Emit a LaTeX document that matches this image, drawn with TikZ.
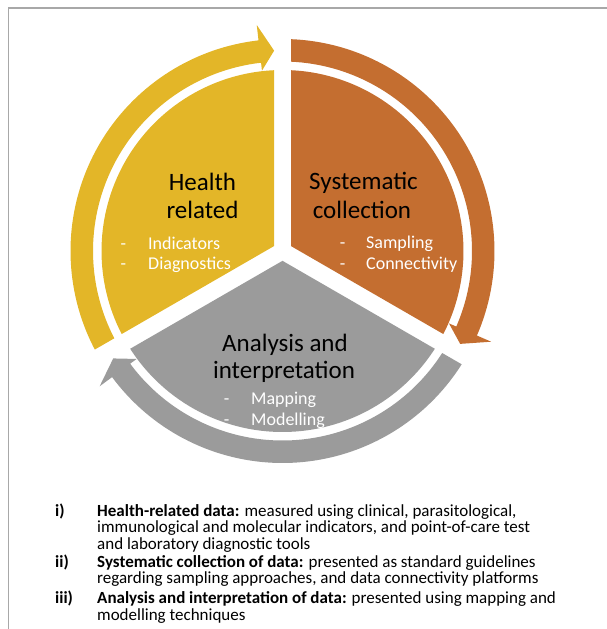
\documentclass[tikz,border=0pt]{standalone}
\usepackage{fontspec}
\setmainfont{Carlito}
\begin{document}
\begin{tikzpicture}[x=1pt,y=1pt,
  title/.style={anchor=base,font=\fontsize{25}{30}\selectfont,text=black,inner sep=0pt},
  dashmark/.style={anchor=base,font=\fontsize{18}{22}\selectfont,text=white,inner sep=0pt},
  subitem/.style={anchor=base west,font=\fontsize{18}{22}\selectfont,text=white,inner sep=0pt},
  notelabel/.style={anchor=base west,font=\fontsize{17}{18}\bfseries\selectfont,inner sep=0pt},
  noteline/.style={anchor=base west,font=\fontsize{17}{18}\selectfont,inner sep=0pt}]
\definecolor{hyellow}{RGB}{227,182,40}
\definecolor{sorange}{RGB}{196,110,48}
\definecolor{agray}{RGB}{155,155,155}
\definecolor{framegray}{RGB}{168,168,168}
\useasboundingbox (0,0) rectangle (607,-629);
% frame
\draw[framegray,line width=1.5] (8.5,-629) -- (8.5,-8) -- (607,-8);

% wheel: three segments with gaps, each with a clockwise arrow ring
\begin{scope}[shift={(282.5,-251)}]
  \def\dpie{2.692}   % asin(8.5/181)
  \def\dinn{2.571}   % asin(8.5/189.5)
  \def\dout{2.298}   % asin(8.5/212)
  \foreach \a/\b/\col in {90/210/hyellow,-30/90/sorange,210/330/agray}{
    \fill[\col] ({\a+60}:9.815) -- ({\a+\dpie}:181)
      arc[start angle={\a+\dpie}, end angle={\b-\dpie}, radius=181] -- cycle;
    \fill[\col] ({\b-\dout}:212)
      arc[start angle={\b-\dout}, end angle={\a+6.5}, radius=212]
      -- ({\a+6.5}:227.5) -- ({\a+2.4}:200.5) -- ({\a+6.5}:181.5)
      -- ({\a+6.5}:189.5)
      arc[start angle={\a+6.5}, end angle={\b-\dinn}, radius=189.5] -- cycle;
  }
\end{scope}

% segment texts
\node[title] (hr1) at (202.5,-190) {Health};
\node[title] (hr2) at (202.5,-218) {related};
\node[dashmark] (hd1) at (123.3,-249.3) {-};
\node[subitem] (hi1) at (148,-249.3) {Indicators};
\node[dashmark] (hd2) at (123.3,-269.3) {-};
\node[subitem] (hi2) at (148,-269.3) {Diagnostics};

\node[title] (sc1) at (363.5,-189) {Systematic};
\node[title] (sc2) at (362,-218) {collection};
\node[dashmark] (sd1) at (342.7,-248.3) {-};
\node[subitem] (si1) at (366,-248.3) {Sampling};
\node[dashmark] (sd2) at (342.7,-269.3) {-};
\node[subitem] (si2) at (366,-269.3) {Connectivity};

\node[title] (ai1) at (285,-351) {Analysis and};
\node[title] (ai2) at (284,-378.5) {interpretation};
\node[dashmark] (ad1) at (226.7,-404) {-};
\node[subitem] (ai3) at (251,-404) {Mapping};
\node[dashmark] (ad2) at (226.7,-425.7) {-};
\node[subitem] (ai4) at (251,-425.7) {Modelling};

% notes below the wheel
\node[notelabel] (l1) at (55,-516) {i)};
\node[noteline] (n1a) at (97,-516) {\textbf{Health-related data:} measured using clinical, parasitological,};
\node[noteline] (n1b) at (97,-532.5) {immunological and molecular indicators, and point-of-care test};
\node[noteline] (n1c) at (97,-549) {and laboratory diagnostic tools};
\node[notelabel] (l2) at (55,-567) {ii)};
\node[noteline] (n2a) at (97,-567) {\textbf{Systematic collection of data:} presented as standard guidelines};
\node[noteline] (n2b) at (97,-583.5) {regarding sampling approaches, and data connectivity platforms};
\node[notelabel] (l3) at (55,-603) {iii)};
\node[noteline] (n3a) at (97,-603) {\textbf{Analysis and interpretation of data:} presented using mapping and};
\node[noteline] (n3b) at (97,-620) {modelling techniques};
\end{tikzpicture}
\end{document}
